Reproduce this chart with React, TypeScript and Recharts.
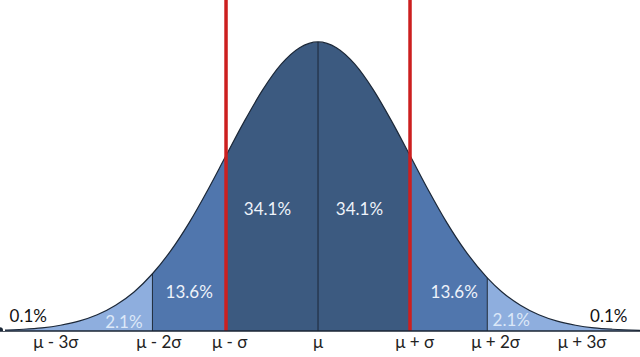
import { ComposedChart, Area, XAxis, YAxis, ReferenceLine, ReferenceDot } from 'recharts';

// x in units of sigma, y relative to the peak height
const zs = [-3.457, -3.2, -3.0, -2.8, -2.6, -2.4, -2.2, -2.0, -1.8, -1.6, -1.4, -1.2, -1.0, -0.8, -0.6, -0.4, -0.2, 0, 0.2, 0.4, 0.6, 0.8, 1.0, 1.2, 1.4, 1.6, 1.84, 2.0, 2.2, 2.4, 2.6, 2.8, 3.0, 3.2, 3.5];
const density = [0.003, 0.006, 0.011, 0.020, 0.034, 0.056, 0.089, 0.135, 0.198, 0.278, 0.375, 0.487, 0.607, 0.726, 0.835, 0.923, 0.980, 1.0, 0.980, 0.923, 0.835, 0.726, 0.607, 0.487, 0.375, 0.278, 0.184, 0.135, 0.089, 0.056, 0.034, 0.020, 0.011, 0.006, 0.002];

const bandEdges = [-1.8, -1.0, 1.0, 1.84];
const bandKeys = ['tailL', 'midL', 'center', 'midR', 'tailR'];
const bandColors = ['#8eaede', '#5076ad', '#3c5a80', '#5076ad', '#8eaede'];

const tickZ = [-2.85, -1.73, -0.96, 0, 1.05, 1.93, 2.87];
const tickLabels = ['μ - 3σ', 'μ - 2σ', 'μ - σ', 'μ', 'μ + σ', 'μ + 2σ', 'μ + 3σ'];

const pctLabels = ['34.1%', '34.1%', '13.6%', '13.6%', '2.1%', '2.1%', '0.1%', '0.1%'];
const pctZ = [-0.55, 0.45, -1.4, 1.48, -2.11, 2.1, -3.15, 3.16];
const pctY = [0.422, 0.422, 0.135, 0.135, 0.031, 0.038, 0.052, 0.052];
const pctColors = ['#eef3fa', '#eef3fa', '#eef3fa', '#eef3fa', '#dce8f8', '#dce8f8', '#111', '#111'];

const dividers = [
  { z: -1.8, d: 0.198 },
  { z: 0, d: 1.0 },
  { z: 1.84, d: 0.184 },
];

const redLines = [-1.0, 1.0];

const data = zs.map((z, i) => {
  const row: any = { z, curve: density[i] };
  const lims = [-Infinity, ...bandEdges, Infinity];
  bandKeys.forEach((k, b) => {
    row[k] = z >= lims[b] - 1e-9 && z <= lims[b + 1] + 1e-9 ? density[i] : null;
  });
  return row;
});

const font = 'Lato, "Open Sans", sans-serif';

export default function App() {
  return (
    <div style={{ position: 'absolute', left: 0, top: 0, width: 640, height: 357, background: '#fff' }}>
      <ComposedChart width={640} height={357} data={data} margin={{ top: 0, right: 0, left: 0, bottom: 0 }}>
        <XAxis
          dataKey="z"
          type="number"
          domain={[-3.457, 3.5]}
          allowDataOverflow
          ticks={tickZ}
          interval={0}
          tickFormatter={(v: number) => tickLabels[tickZ.indexOf(v)] ?? ''}
          tickLine={false}
          tickSize={3}
          tickMargin={2}
          height={26}
          axisLine={{ stroke: '#1a2433', strokeWidth: 1.5 }}
          tick={{ fontSize: 17, fill: '#222', fontFamily: font }}
        />
        <YAxis hide type="number" domain={[0, 1.145]} allowDataOverflow />
        {bandKeys.map((k, b) => (
          <Area
            key={k}
            dataKey={k}
            type="monotone"
            stroke="none"
            fill={bandColors[b]}
            fillOpacity={1}
            isAnimationActive={false}
            connectNulls={false}
          />
        ))}
        <Area
          dataKey="curve"
          type="monotone"
          stroke="#1c2838"
          strokeWidth={1.2}
          fill="none"
          isAnimationActive={false}
        />
        {dividers.map((d, i) => (
          <ReferenceLine
            key={i}
            segment={[{ x: d.z, y: 0 }, { x: d.z, y: d.d }]}
            stroke="#1c2838"
            strokeWidth={1}
          />
        ))}
        {redLines.map((z, i) => (
          <ReferenceLine key={'r' + i} x={z} stroke="#cc1f1f" strokeWidth={3.5} />
        ))}
        {pctLabels.map((t, i) => (
          <ReferenceDot
            key={'p' + i}
            x={pctZ[i]}
            y={pctY[i]}
            r={0}
            stroke="none"
            label={{ value: t, position: 'center', fill: pctColors[i], fontSize: 17, fontFamily: font }}
          />
        ))}
      </ComposedChart>
    </div>
  );
}
